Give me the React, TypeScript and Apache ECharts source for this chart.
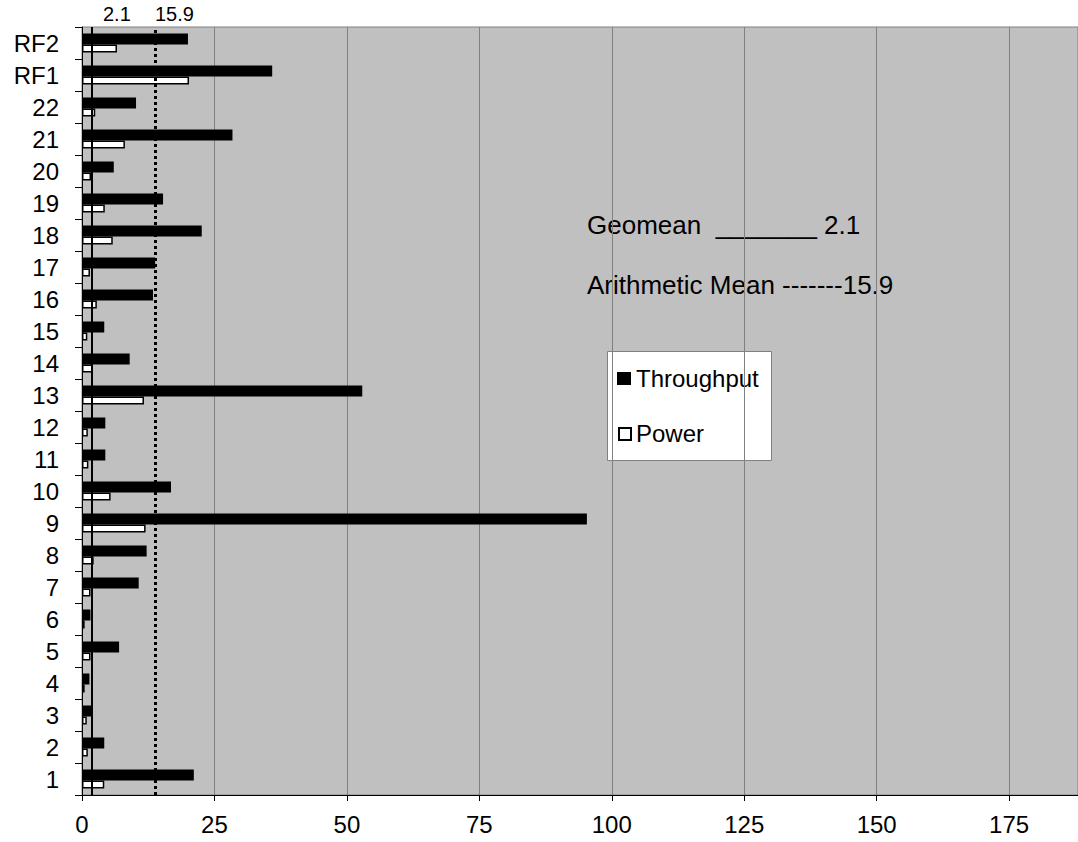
import React, { useEffect, useRef } from "react";
import * as echarts from "echarts";

const categories = ["1", "2", "3", "4", "5", "6", "7", "8", "9", "10", "11", "12", "13", "14", "15", "16", "17", "18", "19", "20", "21", "22", "RF1", "RF2"];
const throughput = [21.1, 4.2, 1.9, 1.4, 7.0, 1.6, 10.7, 12.2, 95.3, 16.8, 4.4, 4.4, 52.9, 9.0, 4.2, 13.4, 13.8, 22.6, 15.3, 6.0, 28.4, 10.2, 35.9, 20.0];
const power = [4.2, 1.1, 0.9, 0.5, 1.6, 0.5, 1.6, 2.2, 12.0, 5.4, 1.2, 1.1, 11.7, 2.0, 1.0, 2.8, 1.5, 5.8, 4.3, 1.7, 8.1, 2.5, 20.2, 6.6];
const geomeanPos = 1.9;
const arithPos = 13.8;
const geomeanLabel = "2.1";
const arithLabel = "15.9";
const xTicks = [0, 25, 50, 75, 100, 125, 150, 175];

const FONT = "Liberation Sans, Arial, sans-serif";

export default function App() {
  const ref = useRef<HTMLDivElement>(null);
  useEffect(() => {
    document.body.style.margin = "0";
    const chart = echarts.init(ref.current!, null, { renderer: "svg" });
    const txt = (text: string, x: number, y: number, size: number) => ({
      type: "text",
      x,
      y,
      style: { text, fontSize: size, fill: "#000", fontFamily: FONT, verticalAlign: "middle", align: "left" },
    });
    chart.setOption({
      animation: false,
      textStyle: { fontFamily: FONT },
      grid: {
        left: 82,
        top: 27,
        right: 0,
        bottom: 47,
        show: true,
        backgroundColor: "#C0C0C0",
        borderColor: "#808080",
        borderWidth: 1,
      },
      legend: { show: false },
      xAxis: {
        type: "value",
        min: 0,
        max: 188,
        interval: 25,
        axisLine: { show: true, lineStyle: { color: "#000", width: 1 } },
        axisTick: { show: true, length: 6, lineStyle: { color: "#000" } },
        axisLabel: {
          fontSize: 24,
          color: "#000",
          margin: 17,
          fontFamily: FONT,
          showMaxLabel: false,
          formatter: (v: number) => (xTicks.includes(v) ? String(v) : ""),
        },
        splitLine: { show: true, lineStyle: { color: "#808080", width: 1 } },
      },
      yAxis: {
        type: "category",
        data: categories,
        axisLine: { show: true, lineStyle: { color: "#000", width: 1 } },
        axisTick: { show: true, length: 7, lineStyle: { color: "#000" } },
        axisLabel: { fontSize: 24, color: "#000", margin: 23, fontFamily: FONT },
        splitLine: { show: false },
      },
      series: [
        {
          name: "Throughput",
          type: "bar",
          data: throughput,
          barWidth: 11,
          barGap: "0%",
          itemStyle: { color: "#000" },
          markLine: {
            symbol: "none",
            silent: true,
            label: { show: false },
            data: [
              { xAxis: geomeanPos, lineStyle: { color: "#000", width: 2, type: "solid" } },
              { xAxis: arithPos, lineStyle: { color: "#000", width: 3, type: [3, 3] } },
            ],
          },
        },
        {
          name: "Power",
          type: "bar",
          data: power,
          barWidth: 8,
          barGap: "0%",
          itemStyle: { color: "#fff", borderColor: "#000", borderWidth: 1.5 },
        },
      ],
      graphic: [
        txt(geomeanLabel, 103, 14, 20),
        txt(arithLabel, 155, 14, 20),
        txt("Geomean  _______ " + geomeanLabel, 587, 225, 26),
        txt("Arithmetic Mean -------" + arithLabel, 587, 285, 26),
        {
          type: "rect",
          left: 607,
          top: 351,
          shape: { width: 164, height: 109 },
          style: { fill: "#fff", stroke: "#808080", lineWidth: 1 },
        },
        { type: "rect", left: 617, top: 372, shape: { width: 14, height: 13 }, style: { fill: "#000" } },
        txt("Throughput", 636, 378, 24),
        { type: "rect", left: 618, top: 427, shape: { width: 12, height: 12 }, style: { fill: "#fff", stroke: "#000", lineWidth: 2 } },
        txt("Power", 636, 433, 24),
      ],
    });
    return () => chart.dispose();
  }, []);
  return <div ref={ref} style={{ position: "absolute", left: 0, top: 0, width: 1078, height: 842 }} />;
}
